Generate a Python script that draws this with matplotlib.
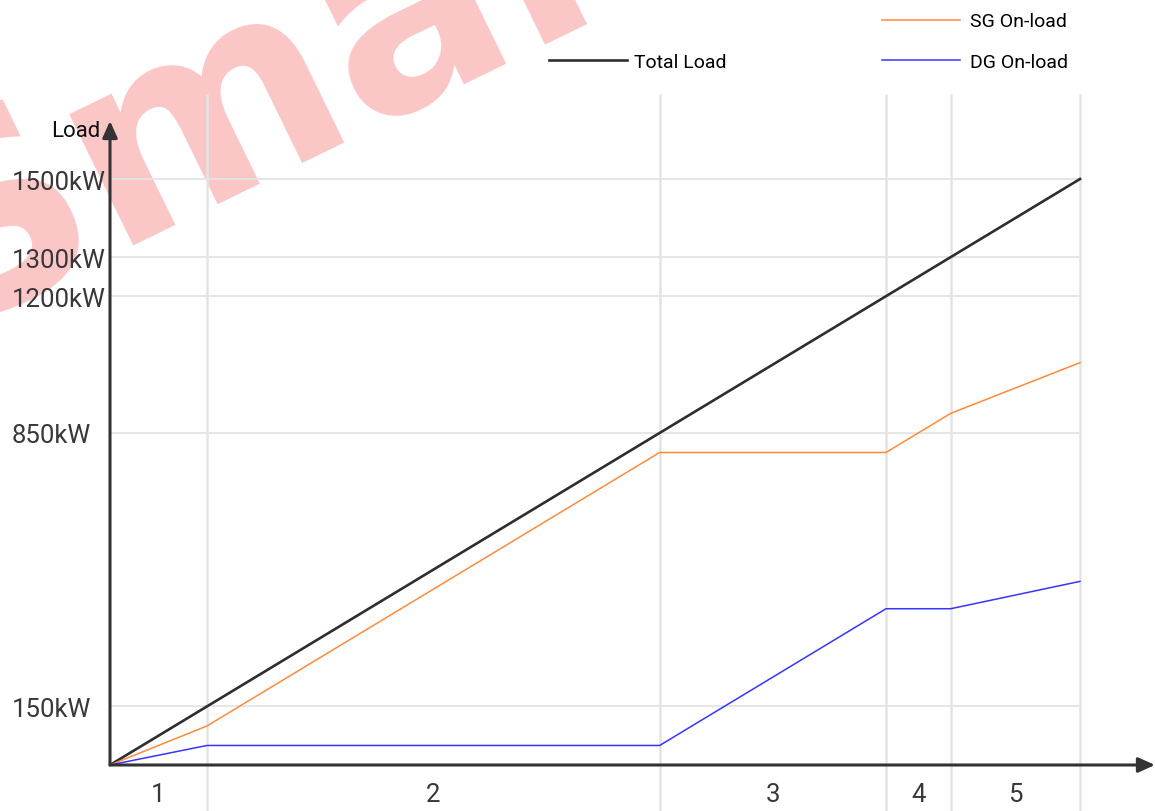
import matplotlib
matplotlib.use('Agg')
import matplotlib.pyplot as plt

# stage boundaries on the x axis (expressed as total load at the boundary)
bounds = [0, 150, 850, 1200, 1300, 1500]
total_load = [0, 150, 850, 1200, 1300, 1500]
sg_load = [0, 100, 800, 800, 900, 1030]
dg_load = [0, 50, 50, 400, 400, 470]
stages = ['1', '2', '3', '4', '5']
ytick_vals = [150, 850, 1200, 1300, 1500]
ytick_labels = ['150kW', '850kW', '1200kW', '1300kW', '1500kW']

W, H = 1155, 812
plt.rcParams['font.family'] = ['Roboto', 'DejaVu Sans']

fig = plt.figure(figsize=(W / 100, H / 100), dpi=100)

# watermark, behind everything
fig.text(-60 / W, 1 - 330 / H, 'Smart', fontsize=192, fontweight='bold',
         family='DejaVu Sans', color='#fac6c6', rotation=26, rotation_mode='anchor',
         ha='left', va='baseline', zorder=-1)

ax = fig.add_axes([110 / W, 0, 1 - 110 / W, (H - 95) / H])
ax.set_facecolor('none')
px_per_kw = 586 / 1500
y_lo = -(H - 766) / px_per_kw
y_hi = (766 - 95) / px_per_kw
x_hi = (W - 110) * 1500 / 970
ax.set_xlim(0, x_hi)
ax.set_ylim(y_lo, y_hi)
for s in ax.spines.values():
    s.set_visible(False)

grid_c = '#e4e4e4'
ax.hlines(ytick_vals, 0, bounds[-1], color=grid_c, lw=1.3, zorder=1)
ax.vlines(bounds[1:], y_lo, y_hi, color=grid_c, lw=1.8, zorder=1)

l_total, = ax.plot(bounds, total_load, color='#2e2e2e', lw=1.9, zorder=3, label='Total Load')
l_sg, = ax.plot(bounds, sg_load, color='#ff8a3d', lw=1.1, zorder=3, label='SG On-load')
l_dg, = ax.plot(bounds, dg_load, color='#3535ff', lw=1.1, zorder=3, label='DG On-load')

# axes with arrows
arrow = dict(arrowstyle='-|>,head_length=1.0,head_width=0.45', mutation_scale=10,
             lw=2.2, color='#333333', shrinkA=0, shrinkB=0)
ax.annotate('', xy=(0, (766 - 122) / px_per_kw), xytext=(0, 0), arrowprops=arrow,
            annotation_clip=False, zorder=4)
ax.annotate('', xy=(x_hi, 0), xytext=(0, 0), arrowprops=arrow,
            annotation_clip=False, zorder=4)

ax.set_xticks([])
ax.set_yticks(ytick_vals, ytick_labels)
ax.tick_params(axis='y', length=0, pad=98 * 0.72, labelsize=18.5, labelcolor='#383838')
for t in ax.get_yticklabels():
    t.set_horizontalalignment('left')

for i, s in enumerate(stages):
    mid = (bounds[i] + bounds[i + 1]) / 2
    ax.text(mid, -29 / px_per_kw, s, ha='center', va='center', fontsize=18.5, color='#383838')

fig.text(100 / W, 1 - 137 / H, 'Load', ha='right', va='baseline', fontsize=16, color='#111111')

fig.legend(handles=[l_total], loc='center left', bbox_to_anchor=(549 / W, 1 - 63 / H),
           frameon=False, handlelength=4.0, handletextpad=0.35, borderpad=0,
           borderaxespad=0, fontsize=14)
fig.legend(handles=[l_sg, l_dg], loc='center left', bbox_to_anchor=(882 / W, 1 - 42.5 / H),
           frameon=False, handlelength=4.0, handletextpad=0.5, borderpad=0,
           borderaxespad=0, labelspacing=1.15, fontsize=14)

fig.savefig('out.png', dpi=100)
